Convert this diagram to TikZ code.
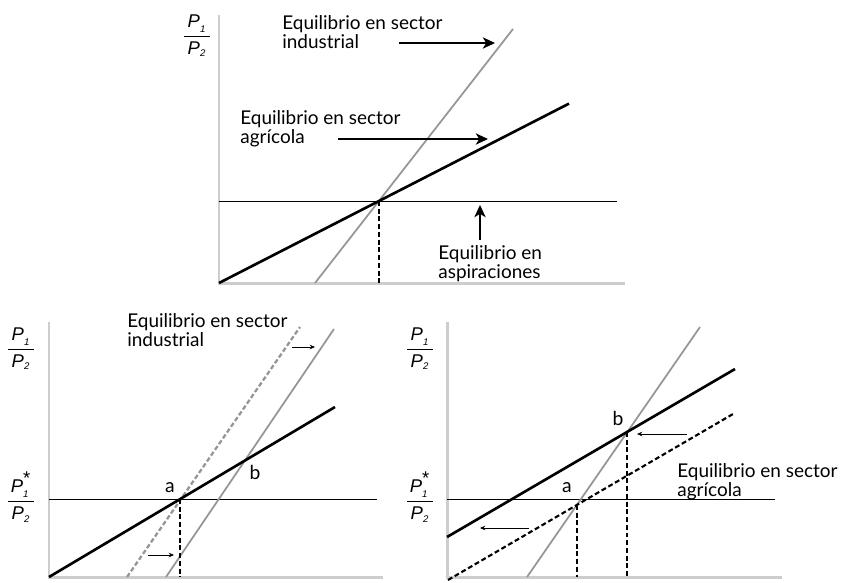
\documentclass[tikz,border=0pt]{standalone}
\usepackage{amsmath}
\usepackage{fontspec}
\setmainfont{Lato}
\newfontfamily\pfont{Liberation Sans}
\usetikzlibrary{arrows.meta}
\definecolor{axisgray}{RGB}{205,205,205}
\definecolor{curvegray}{RGB}{150,150,150}
\newcommand{\pp}[1]{\mbox{\pfont\itshape P}_{\mbox{\pfont\itshape\fontsize{5.5}{6}\selectfont #1}}}
\newcommand{\pratio}[1]{$\dfrac{\makebox[15pt]{$\pp{1}^{#1}$}}{\makebox[15pt]{$\pp{2}$}}$}
\begin{document}
\begin{tikzpicture}[x=0.02cm, y=-0.02cm,
  eqaxis/.style={draw=axisgray, line width=1.7pt},
  eqasp/.style={line width=0.5pt},
  eqag/.style={line width=1.5pt},
  eqind/.style={draw=curvegray, line width=1pt},
  eqguide/.style={line width=1.2pt, dash pattern=on 2.8pt off 1.6pt},
  eqlbl/.style={anchor=north west, inner sep=0pt, align=left, font={\fontsize{10.8}{10.9}\selectfont}},
  eqpt/.style={inner sep=0pt, font={\fontsize{11}{12}\selectfont}},
  eqfrac/.style={inner sep=0pt, font={\fontsize{10.5}{12}\selectfont}},
  eqarrow/.style={line width=0.7pt, -{Stealth[length=7pt, width=6.5pt, inset=2pt]}},
  eqsmall/.style={line width=0.5pt, -{Stealth[length=3pt, width=2.6pt]}}
]
\useasboundingbox (0,0) rectangle (841,582);
% upper panel
\coordinate (tY) at (219,15);
\coordinate (tO) at (219,283);
\coordinate (tX) at (625,283);
\draw[eqaxis] (tY) -- (tO) -- (tX);
\node[eqfrac] (tfrac) at (197,36) {\pratio{}};
\coordinate (ta0) at (219,201);
\coordinate (ta1) at (617,201);
\coordinate (tE) at (379,201);
\coordinate (tEx) at (379,283);
\coordinate (tg0) at (219,283);
\coordinate (tg1) at (569,103.6);
\coordinate (ti0) at (315,283);
\coordinate (ti1) at (513,29);
\draw[eqasp] (ta0) -- (ta1);
\draw[eqind] (ti0) -- (ti1);
\draw[eqag] (tg0) -- (tg1);
\draw[eqguide] (tE) -- (tEx);
\node[eqlbl] (tind) at (282,15) {Equilibrio en sector\\industrial};
\node[eqlbl] (tagr) at (240,110) {Equilibrio en sector\\agrícola};
\node[eqlbl] (tasp) at (438,245) {Equilibrio en\\aspiraciones};
\coordinate (tia0) at (399,43);
\coordinate (tia1) at (495,43);
\coordinate (tga0) at (338,139);
\coordinate (tga1) at (488,139);
\coordinate (tsa0) at (480,240);
\coordinate (tsa1) at (480,205);
\draw[eqarrow] (tia0) -- (tia1);
\draw[eqarrow] (tga0) -- (tga1);
\draw[eqarrow] (tsa0) -- (tsa1);
% lower left panel
\coordinate (lY) at (49,322);
\coordinate (lO) at (49,577);
\coordinate (lX) at (383,577);
\draw[eqaxis] (lY) -- (lO) -- (lX);
\node[eqfrac] (lfrac) at (21,349) {\pratio{}};
\node[eqfrac] (lfracs) at (21,497) {\pratio{\mbox{\pfont *}}};
\coordinate (la0) at (49,499);
\coordinate (la1) at (377,499);
\coordinate (lA) at (180,499);
\coordinate (lAx) at (180,577);
\coordinate (lg0) at (49,577);
\coordinate (lg1) at (335,407);
\coordinate (lo0) at (127,577);
\coordinate (lo1) at (300,327);
\coordinate (li0) at (166,577);
\coordinate (li1) at (334,329);
\draw[eqasp] (la0) -- (la1);
\draw[eqind, line width=1.3pt, dash pattern=on 2.6pt off 1.4pt] (lo0) -- (lo1);
\draw[eqind] (li0) -- (li1);
\draw[eqag] (lg0) -- (lg1);
\draw[eqguide] (lA) -- (lAx);
\node[eqpt] (la) at (170,488) {a};
\node[eqpt] (lb) at (255,472) {b};
\node[eqlbl] (lind) at (127,313) {Equilibrio en sector\\industrial};
\coordinate (lsa0) at (292,347);
\coordinate (lsa1) at (315,347);
\coordinate (lsb0) at (148,555);
\coordinate (lsb1) at (174,555);
\draw[eqsmall] (lsa0) -- (lsa1);
\draw[eqsmall] (lsb0) -- (lsb1);
% lower right panel
\coordinate (rY) at (447,322);
\coordinate (rO) at (447,577);
\coordinate (rX) at (782,577);
\draw[eqaxis] (rY) -- (rO) -- (rX);
\node[eqfrac] (rfrac) at (420,349) {\pratio{}};
\node[eqfrac] (rfracs) at (420,497) {\pratio{\mbox{\pfont *}}};
\coordinate (ra0) at (447,499);
\coordinate (ra1) at (775,499);
\coordinate (rg0) at (447,537);
\coordinate (rg1) at (735,369);
\coordinate (ro0) at (448,580);
\coordinate (ro1) at (733,414);
\coordinate (ri0) at (527,577);
\coordinate (ri1) at (700,327);
\coordinate (rA) at (577,505);
\coordinate (rAx) at (577,577);
\coordinate (rB) at (627,432);
\coordinate (rBx) at (627,577);
\draw[eqasp] (ra0) -- (ra1);
\draw[eqind] (ri0) -- (ri1);
\draw[eqag] (rg0) -- (rg1);
\draw[eqguide] (ro0) -- (ro1);
\draw[eqguide] (rA) -- (rAx);
\draw[eqguide] (rB) -- (rBx);
\node[eqpt] (ra) at (567,488) {a};
\node[eqpt] (rb) at (618,418) {b};
\node[eqlbl] (ragr) at (677,463) {Equilibrio en sector\\agrícola};
\coordinate (rsa0) at (687,434);
\coordinate (rsa1) at (637,434);
\coordinate (rsb0) at (529,528);
\coordinate (rsb1) at (480,528);
\draw[eqsmall] (rsa0) -- (rsa1);
\draw[eqsmall] (rsb0) -- (rsb1);
\end{tikzpicture}
\end{document}
